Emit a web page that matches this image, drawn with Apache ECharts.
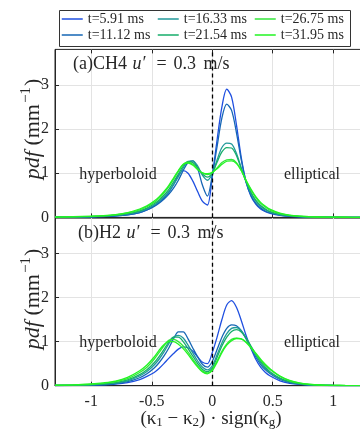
<!DOCTYPE html>
<html><head><meta charset="utf-8">
<script src="https://cdn.jsdelivr.net/npm/echarts@6/dist/echarts.min.js"></script>
<style>html,body{margin:0;padding:0;background:#fff}#c{width:360px;height:431px}</style>
</head><body><div id="c"></div>
<script>
// x grid of the curves: (kappa1 - kappa2) * sign(kappa_g)
const X = [-1.3,-1.15,-1.0,-0.9,-0.8,-0.7,-0.6,-0.54,-0.48,-0.44,-0.40,-0.36,-0.32,-0.28,-0.24,-0.20,-0.16,-0.12,-0.08,-0.04,0,0.04,0.08,0.12,0.16,0.20,0.24,0.28,0.32,0.36,0.40,0.44,0.48,0.56,0.64,0.72,0.8,0.9,1.0,1.1,1.23];

const seriesNames = ['t=5.91 ms','t=11.12 ms','t=16.33 ms','t=21.54 ms','t=26.75 ms','t=31.95 ms'];

// (a) CH4 pdf values
const ch4_t591  = [0.003,0.006,0.012,0.02,0.03,0.055,0.11,0.17, 0.26,0.34,0.44,0.56,0.74,0.95,1.06,1.0,0.82,0.58,0.36,0.28,0.92,1.75,2.5,2.9,2.72,2.1,1.35,0.8,0.48,0.3,0.19,0.13,0.09, 0.045,0.025,0.014,0.008,0.004,0.002,0.001,0];
const ch4_t1112 = [0.004,0.008,0.014,0.022,0.035,0.06,0.11,0.17, 0.25,0.32,0.41,0.52,0.66,0.84,1.06,1.24,1.28,1.1,0.72,0.48,0.95,1.6,2.25,2.56,2.42,1.92,1.3,0.8,0.5,0.32,0.21,0.14,0.1, 0.05,0.028,0.016,0.009,0.005,0.003,0.001,0];
const ch4_t1633 = [0.005,0.01,0.018,0.028,0.045,0.075,0.13,0.19, 0.28,0.36,0.46,0.58,0.74,0.92,1.12,1.27,1.28,1.16,0.95,0.84,0.98,1.3,1.58,1.68,1.66,1.45,1.12,0.8,0.55,0.37,0.25,0.17,0.12, 0.06,0.033,0.019,0.011,0.006,0.003,0.002,0.001];
const ch4_t2154 = [0.006,0.012,0.02,0.03,0.05,0.085,0.15,0.21, 0.31,0.39,0.5,0.63,0.8,0.98,1.16,1.26,1.24,1.12,0.98,0.91,1.0,1.25,1.48,1.58,1.57,1.4,1.1,0.81,0.57,0.39,0.27,0.19,0.13, 0.07,0.038,0.022,0.013,0.007,0.004,0.002,0.001];
const ch4_t2675 = [0.007,0.014,0.024,0.036,0.058,0.1,0.17,0.24, 0.34,0.43,0.55,0.69,0.86,1.04,1.2,1.25,1.2,1.09,1.0,0.97,1.01,1.12,1.24,1.3,1.31,1.24,1.06,0.83,0.62,0.45,0.32,0.23,0.16, 0.085,0.046,0.026,0.015,0.008,0.005,0.003,0.001];
const ch4_t3195 = [0.008,0.016,0.027,0.04,0.065,0.11,0.19,0.26, 0.37,0.46,0.58,0.72,0.89,1.06,1.2,1.23,1.18,1.08,1.01,0.99,1.02,1.1,1.2,1.27,1.28,1.22,1.06,0.84,0.64,0.47,0.34,0.25,0.18, 0.095,0.052,0.029,0.017,0.009,0.005,0.003,0.002];

// (b) H2 pdf values
const h2_t591  = [0.003,0.006,0.012,0.02,0.035,0.07,0.14,0.21, 0.3,0.39,0.5,0.62,0.73,0.83,0.88,0.86,0.78,0.65,0.53,0.5,0.75,1.1,1.5,1.83,1.93,1.78,1.48,1.14,0.85,0.6,0.42,0.3,0.22, 0.11,0.055,0.028,0.014,0.007,0.003,0.001,0];
const h2_t1112 = [0.004,0.008,0.016,0.026,0.045,0.09,0.18,0.27, 0.4,0.52,0.67,0.85,1.06,1.22,1.22,1.06,0.85,0.65,0.48,0.42,0.55,0.82,1.1,1.3,1.38,1.36,1.25,1.06,0.85,0.65,0.48,0.36,0.27, 0.14,0.07,0.036,0.018,0.009,0.004,0.002,0.001];
const h2_t1633 = [0.005,0.011,0.022,0.036,0.06,0.11,0.22,0.32, 0.47,0.6,0.76,0.95,1.1,1.14,1.08,0.92,0.74,0.56,0.42,0.36,0.45,0.7,0.97,1.18,1.3,1.32,1.25,1.08,0.88,0.69,0.52,0.39,0.29, 0.16,0.08,0.042,0.022,0.011,0.005,0.002,0.001];
const h2_t2154 = [0.006,0.013,0.026,0.043,0.072,0.13,0.25,0.36, 0.52,0.66,0.82,0.99,1.1,1.1,1.0,0.84,0.67,0.5,0.37,0.32,0.4,0.64,0.9,1.1,1.23,1.27,1.22,1.08,0.9,0.71,0.55,0.42,0.31, 0.17,0.09,0.047,0.025,0.012,0.006,0.003,0.001];
const h2_t2675 = [0.008,0.017,0.033,0.055,0.09,0.16,0.3,0.42, 0.6,0.75,0.9,1.03,1.05,1.0,0.9,0.76,0.6,0.45,0.33,0.29,0.36,0.56,0.78,0.95,1.05,1.08,1.06,0.98,0.86,0.72,0.58,0.46,0.36, 0.21,0.11,0.058,0.03,0.014,0.007,0.003,0.001];
const h2_t3195 = [0.01,0.02,0.04,0.065,0.105,0.19,0.34,0.47, 0.65,0.8,0.93,1.0,1.0,0.94,0.84,0.71,0.56,0.42,0.31,0.27,0.34,0.53,0.75,0.92,1.02,1.07,1.06,0.99,0.87,0.74,0.6,0.48,0.38, 0.22,0.12,0.063,0.033,0.016,0.008,0.004,0.002];

const xTickValues = [-1,-0.5,0,0.5,1];
const yTickValues = [0,1,2,3];

const ch4 = [ch4_t591,ch4_t1112,ch4_t1633,ch4_t2154,ch4_t2675,ch4_t3195];
const h2  = [h2_t591,h2_t1112,h2_t1633,h2_t2154,h2_t2675,h2_t3195];
const colors = ['#1f4fe0','#1566b5','#22999a','#16ad6a','#33e63a','#22f522'];

const FF = '"Liberation Serif","Times New Roman",serif';
const TXT = '#262626';
const GRIDC = '#e3e3e3';

function xAxisCfg(gridIndex, showLabels, position) {
  return {
    type:'value', gridIndex, min:-1.3, max:1.23, position: position || 'bottom',
    axisLine:{show: position !== 'top', onZero:false, lineStyle:{color:TXT, width:1}},
    axisTick:{show:true, inside:true, length:4, customValues:xTickValues, lineStyle:{color:TXT}},
    axisLabel:{show:showLabels, customValues:xTickValues, margin:8, color:TXT, fontFamily:FF, fontSize:16,
      formatter: v => (v < 0 ? '-' + Math.abs(v) : String(v))},
    splitLine:{show: position !== 'top', lineStyle:{color:GRIDC, width:1}}
  };
}
function yAxisCfg(gridIndex) {
  return {
    type:'value', gridIndex, min:0, max:3.8,
    axisLine:{show:true, onZero:false, lineStyle:{color:TXT, width:1}},
    axisTick:{show:true, inside:true, length:4, customValues:yTickValues, lineStyle:{color:TXT}},
    axisLabel:{customValues:yTickValues, margin:6, color:TXT, fontFamily:FF, fontSize:16},
    splitLine:{show:true, lineStyle:{color:GRIDC, width:1}}
  };
}

const dashed = {
  silent:true, symbol:'none', animation:false, label:{show:false},
  lineStyle:{color:'#000', type:[4,3], width:1.3},
  data:[{xAxis:0}]
};

const series = [];
seriesNames.forEach((n,k) => {
  series.push({
    name:n, type:'line', xAxisIndex:0, yAxisIndex:0, smooth:0.3, symbol:'none', animation:false,
    data: X.map((x,i) => [x, ch4[k][i]]),
    lineStyle:{width:1.3, color:colors[k]}, itemStyle:{color:colors[k]}, z:2+k,
    markLine: k === 5 ? dashed : undefined
  });
  series.push({
    name:n, type:'line', xAxisIndex:1, yAxisIndex:1, smooth:0.3, symbol:'none', animation:false,
    data: X.map((x,i) => [x, h2[k][i]]),
    lineStyle:{width:1.3, color:colors[k]}, itemStyle:{color:colors[k]}, z:2+k,
    markLine: k === 5 ? dashed : undefined
  });
});

const legPos = [[61,12],[61,28],[157,12],[157,28],[254,12],[254,28]];
const legends = seriesNames.map((n,k) => ({
  data:[n], left:legPos[k][0], top:legPos[k][1], padding:0, itemWidth:21, itemHeight:14,
  selectedMode:false, z:5, itemStyle:{opacity:0}, lineStyle:{width:1.5},
  textStyle:{fontFamily:FF, fontSize:14, color:TXT}
}));

function txt(text, x, y, align, size, rich, rotation) {
  return {
    type:'text', x, y, rotation: rotation || 0, z:10, silent:true,
    style:{text, fill:TXT, font: size + 'px ' + FF, fontFamily:FF, fontSize:size,
      align, verticalAlign:'middle', textAlign:align, textVerticalAlign:'middle', rich: rich || {}}
  };
}
const richT = (s) => ({
  i:{fontStyle:'italic', fontFamily:FF, fontSize:s, fill:TXT},
  iu:{fontStyle:'italic', fontFamily:FF, fontSize:s, fill:TXT, padding:[0,3,0,1]},
  eq:{fontFamily:FF, fontSize:s, fill:TXT, padding:[0,7,0,8]},
  sp:{fontFamily:FF, fontSize:s, fill:TXT, padding:[0,3,0,0]},
  sub:{fontFamily:FF, fontSize:Math.round(s*0.68), fill:TXT, padding:[8,0,0,0]},
  sup:{fontFamily:FF, fontSize:Math.round(s*0.68), fill:TXT, padding:[0,1,13,1]}
});

const option = {
  backgroundColor:'#fff',
  animation:false,
  grid:[
    {left:55, top:49.4, width:306, height:168, show:true, borderColor:TXT, borderWidth:1, backgroundColor:'transparent', containLabel:false, outerBoundsMode:'none'},
    {left:55, top:218.1, width:306, height:167.6, show:true, borderColor:TXT, borderWidth:1, backgroundColor:'transparent', containLabel:false, outerBoundsMode:'none'}
  ],
  xAxis:[ xAxisCfg(0,false), xAxisCfg(1,true), xAxisCfg(0,false,'top') ],
  yAxis:[ yAxisCfg(0), yAxisCfg(1) ],
  legend: legends,
  series,
  graphic:[
    {type:'rect', shape:{x:59.5, y:10.5, width:291, height:36}, style:{fill:'#fff', stroke:'#333', lineWidth:1}, z:1, silent:true},
    txt('(a)CH4 {iu|u′}{eq|=}0.3{sp| }m/s', 73, 64, 'left', 18, richT(18)),
    txt('hyperboloid', 118, 175, 'center', 16),
    txt('elliptical', 312, 175, 'center', 16),
    txt('(b)H2 {iu|u′}{eq|=}0.3{sp| }m/s', 78, 233, 'left', 18, richT(18)),
    txt('hyperboloid', 118, 343, 'center', 16),
    txt('elliptical', 312, 343, 'center', 16),
    txt('(κ{sub|1} − κ{sub|2}) · sign(κ{sub|g})', 211, 419, 'center', 19, richT(19)),
    txt('{i|pdf} (mm{sup|−1})', 33, 129, 'center', 22, richT(22), Math.PI/2),
    txt('{i|pdf} (mm{sup|−1})', 33, 299, 'center', 22, richT(22), Math.PI/2)
  ]
};

const chart = echarts.init(document.getElementById('c'), null, {renderer:'canvas'});
chart.setOption(option);
</script>
</body></html>
